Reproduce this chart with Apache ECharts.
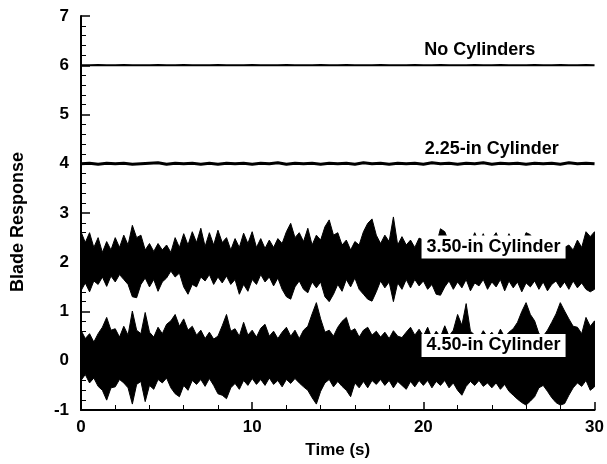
<!DOCTYPE html>
<html>
<head>
<meta charset="utf-8">
<script src="https://cdn.jsdelivr.net/npm/echarts@6/dist/echarts.min.js"></script>
<style>
html,body{margin:0;padding:0;background:#fff;}
#chart{width:607px;height:464px;}
</style>
</head>
<body>
<div id="chart"></div>
<script>
// ---- Data ----
const sampleStep = 0.25; // seconds between envelope samples (t = 0 ... 30)
const cyl350Upper = [2.62,2.40,2.60,2.30,2.50,2.20,2.42,2.25,2.50,2.30,2.55,2.35,2.75,2.50,2.55,2.25,2.38,2.22,2.38,2.25,
  2.35,2.20,2.50,2.30,2.58,2.35,2.62,2.40,2.69,2.32,2.60,2.35,2.65,2.40,2.50,2.25,2.48,2.30,2.59,2.38,
  2.62,2.30,2.48,2.28,2.45,2.30,2.48,2.38,2.62,2.79,2.50,2.60,2.42,2.69,2.35,2.55,2.45,2.72,2.86,2.55,
  2.60,2.35,2.45,2.25,2.42,2.35,2.62,2.79,2.88,2.55,2.38,2.55,2.42,2.92,2.35,2.52,2.35,2.45,2.30,2.49,
  2.45,2.32,2.48,2.35,2.68,2.62,2.40,2.35,2.48,2.35,2.45,2.38,2.60,2.40,2.58,2.35,2.48,2.60,2.40,2.35,
  2.58,2.38,2.48,2.35,2.60,2.56,2.40,2.35,2.48,2.36,2.45,2.32,2.42,2.30,2.35,2.25,2.45,2.30,2.62,2.52,2.62];
const cyl350Lower = [1.42,1.58,1.40,1.62,1.55,1.70,1.51,1.72,1.60,1.75,1.65,1.55,1.30,1.28,1.55,1.68,1.50,1.65,1.41,1.60,
  1.68,1.82,1.70,1.78,1.50,1.35,1.55,1.50,1.70,1.62,1.75,1.55,1.70,1.58,1.72,1.55,1.65,1.35,1.55,1.41,
  1.65,1.55,1.75,1.60,1.70,1.52,1.68,1.45,1.30,1.25,1.50,1.62,1.45,1.38,1.60,1.48,1.60,1.30,1.20,1.35,
  1.55,1.41,1.65,1.50,1.68,1.45,1.35,1.25,1.21,1.40,1.62,1.48,1.60,1.20,1.58,1.45,1.65,1.48,1.65,1.52,
  1.62,1.45,1.55,1.35,1.33,1.50,1.62,1.45,1.60,1.48,1.65,1.42,1.58,1.52,1.65,1.45,1.60,1.50,1.65,1.42,
  1.62,1.48,1.60,1.40,1.58,1.50,1.62,1.45,1.60,1.42,1.55,1.62,1.48,1.60,1.45,1.62,1.48,1.58,1.45,1.40,1.45];
const cyl450Upper = [0.62,0.45,0.55,0.38,0.55,0.68,0.88,0.62,0.65,0.48,0.70,0.52,1.01,0.62,0.55,0.98,0.58,0.48,0.68,0.55,
  0.74,0.81,0.94,0.70,0.85,0.62,0.70,0.52,0.62,0.45,0.58,0.44,0.50,0.71,0.94,0.60,0.65,0.50,0.78,0.52,
  0.62,0.48,0.66,0.74,0.50,0.60,0.45,0.58,0.68,0.50,0.62,0.45,0.62,0.70,0.95,1.18,0.85,0.58,0.62,0.50,
  0.68,0.80,0.88,0.60,0.65,0.48,0.62,0.68,0.52,0.60,0.48,0.58,0.45,0.61,0.50,0.47,0.58,0.68,0.52,0.64,
  0.50,0.68,0.45,0.60,0.48,0.71,0.50,0.62,0.94,0.72,1.16,0.60,0.52,0.45,0.61,0.48,0.58,0.45,0.64,0.48,
  0.58,0.65,0.78,1.00,1.18,0.94,0.81,0.55,0.50,0.62,0.78,0.95,1.18,1.01,0.85,0.70,0.68,0.55,0.88,0.70,0.81];
const cyl450Lower = [-0.40,-0.28,-0.45,-0.35,-0.52,-0.60,-0.80,-0.55,-0.53,-0.38,-0.45,-0.55,-0.88,-0.48,-0.42,-0.83,-0.50,-0.58,-0.38,-0.45,
  -0.35,-0.55,-0.67,-0.73,-0.50,-0.60,-0.40,-0.48,-0.38,-0.52,-0.36,-0.50,-0.67,-0.70,-0.77,-0.55,-0.46,-0.58,-0.40,-0.50,
  -0.36,-0.48,-0.38,-0.50,-0.35,-0.48,-0.40,-0.53,-0.38,-0.46,-0.36,-0.45,-0.53,-0.60,-0.75,-0.88,-0.62,-0.45,-0.38,-0.53,
  -0.42,-0.52,-0.60,-0.73,-0.45,-0.55,-0.42,-0.55,-0.40,-0.48,-0.38,-0.50,-0.40,-0.55,-0.42,-0.50,-0.58,-0.42,-0.53,-0.40,
  -0.50,-0.40,-0.55,-0.42,-0.50,-0.40,-0.55,-0.45,-0.60,-0.70,-0.52,-0.42,-0.50,-0.40,-0.52,-0.45,-0.55,-0.45,-0.58,-0.48,
  -0.62,-0.70,-0.78,-0.85,-0.90,-0.82,-0.73,-0.55,-0.50,-0.62,-0.75,-0.85,-0.90,-0.87,-0.70,-0.55,-0.45,-0.52,-0.40,-0.60,-0.53];
const thinStep = 0.5; // seconds between samples for the two quiet traces
const noCylValues = [6.00,6.00,6.005,6.00,6.00,6.005,6.00,6.00,6.00,6.005,6.00,6.00,6.005,6.00,6.00,6.00,6.005,6.00,6.00,6.00,
  6.005,6.00,6.00,6.00,6.005,6.00,6.00,6.00,6.005,6.00,6.00,6.005,6.00,6.00,6.00,6.005,6.00,6.00,6.00,6.005,
  6.00,6.00,6.005,6.00,6.00,6.00,6.005,6.00,6.00,6.005,6.00,6.00,6.00,6.005,6.00,6.00,6.005,6.00,6.00,6.005,6.00];
const cyl225Values = [4.00,4.01,3.99,4.01,4.00,4.01,3.99,4.00,4.01,4.02,3.99,4.01,4.00,4.01,3.99,4.01,3.99,4.01,4.00,4.01,
  3.99,4.01,4.00,4.02,3.99,4.01,4.00,4.01,3.99,4.01,4.00,4.01,3.99,4.02,4.00,4.01,3.99,4.01,4.00,4.01,
  3.99,4.02,4.00,4.01,3.99,4.01,4.00,4.02,3.99,4.01,4.00,4.01,3.99,4.01,4.00,4.01,3.99,4.02,4.00,4.01,4.00];
const labelTexts = ['No Cylinders','2.25-in Cylinder','3.50-in Cylinder','4.50-in Cylinder'];
const labelX = [23.3, 24.0, 24.1, 24.1];
const labelY = [6.31, 4.29, 2.31, 0.31];
const labelBoxed = [false, false, true, true];
const xTicks = [0, 10, 20, 30];
const yTicks = [-1, 0, 1, 2, 3, 4, 5, 6, 7];

// ---- Build ----
const FONT = '"Liberation Sans", Arial, Helvetica, sans-serif';
function pairs(arr, step) { return arr.map((v, i) => [i * step, v]); }

// Band between a lower and an upper envelope, drawn as one polygon through the axis scales
function band(name, up, lo) {
  return {
    name: name, type: 'custom', z: 2, silent: true, clip: true,
    data: up.map((v, i) => [i * sampleStep, v, lo[i]]),
    encode: { x: 0, y: [1, 2] },
    renderItem: function (params, api) {
      if (params.dataIndexInside !== 0) return null;
      const n = params.dataInsideLength;
      const top = [], bottom = [];
      for (let i = 0; i < n; i++) {
        const t = api.value(0, i);
        top.push(api.coord([t, api.value(1, i)]));
        bottom.push(api.coord([t, api.value(2, i)]));
      }
      const pts = top.concat(bottom.reverse());
      return {
        type: 'polygon',
        shape: { points: pts },
        style: { fill: '#000', stroke: '#000', lineWidth: 1 }
      };
    }
  };
}

const labelData = labelTexts.map((t, i) => ({
  value: [labelX[i], labelY[i]],
  label: labelBoxed[i] ? { backgroundColor: '#ffffff', padding: [3, 5, 2, 5] } : {},
  text: t
}));

const option = {
  animation: false,
  backgroundColor: '#fff',
  grid: { left: 81, right: 10, top: 16, bottom: 52, containLabel: false },
  xAxis: {
    type: 'value', min: xTicks[0], max: xTicks[xTicks.length - 1], interval: 10,
    name: 'Time (s)', nameLocation: 'middle', nameGap: 32,
    nameTextStyle: { fontFamily: FONT, fontWeight: 'bold', fontSize: 17, color: '#000' },
    axisLine: { onZero: false, lineStyle: { color: '#000', width: 2 } },
    axisTick: { inside: true, length: 8, lineStyle: { color: '#000', width: 1.5 } },
    minorTick: { show: true, splitNumber: 5, length: 5, lineStyle: { color: '#000', width: 1 } },
    axisLabel: { fontFamily: FONT, fontWeight: 'bold', fontSize: 17, color: '#000', margin: 9 },
    splitLine: { show: false }
  },
  yAxis: {
    type: 'value', min: yTicks[0], max: yTicks[yTicks.length - 1], interval: 1,
    name: 'Blade Response', nameLocation: 'middle', nameGap: 54,
    nameTextStyle: { fontFamily: FONT, fontWeight: 'bold', fontSize: 18, color: '#000', padding: [0, 18, 0, 0] },
    axisLine: { show: true, onZero: false, lineStyle: { color: '#000', width: 2 } },
    axisTick: { show: true, inside: true, length: 9, lineStyle: { color: '#000', width: 1.5 } },
    minorTick: { show: true, splitNumber: 5, length: 5, lineStyle: { color: '#000', width: 1 } },
    axisLabel: { fontFamily: FONT, fontWeight: 'bold', fontSize: 17, color: '#000', margin: 12 },
    splitLine: { show: false }
  },
  series: [
    { name: 'No Cylinders', type: 'line', data: pairs(noCylValues, thinStep), symbol: 'none',
      lineStyle: { color: '#000', width: 2 }, z: 2, silent: true },
    { name: '2.25-in Cylinder', type: 'line', data: pairs(cyl225Values, thinStep), symbol: 'none',
      lineStyle: { color: '#000', width: 3 }, z: 2, silent: true },
    band('3.50-in Cylinder', cyl350Upper, cyl350Lower),
    band('4.50-in Cylinder', cyl450Upper, cyl450Lower),
    { name: 'labels', type: 'scatter', symbolSize: 0, z: 10, silent: true,
      itemStyle: { opacity: 1, color: '#000' },
      data: labelData,
      label: { show: true, position: 'inside', formatter: p => p.data.text, opacity: 1,
        fontFamily: FONT, fontWeight: 'bold', fontSize: 18, color: '#000' } }
  ]
};
const chart = echarts.init(document.getElementById('chart'), null, { renderer: 'canvas' });
chart.setOption(option);
</script>
</body>
</html>
